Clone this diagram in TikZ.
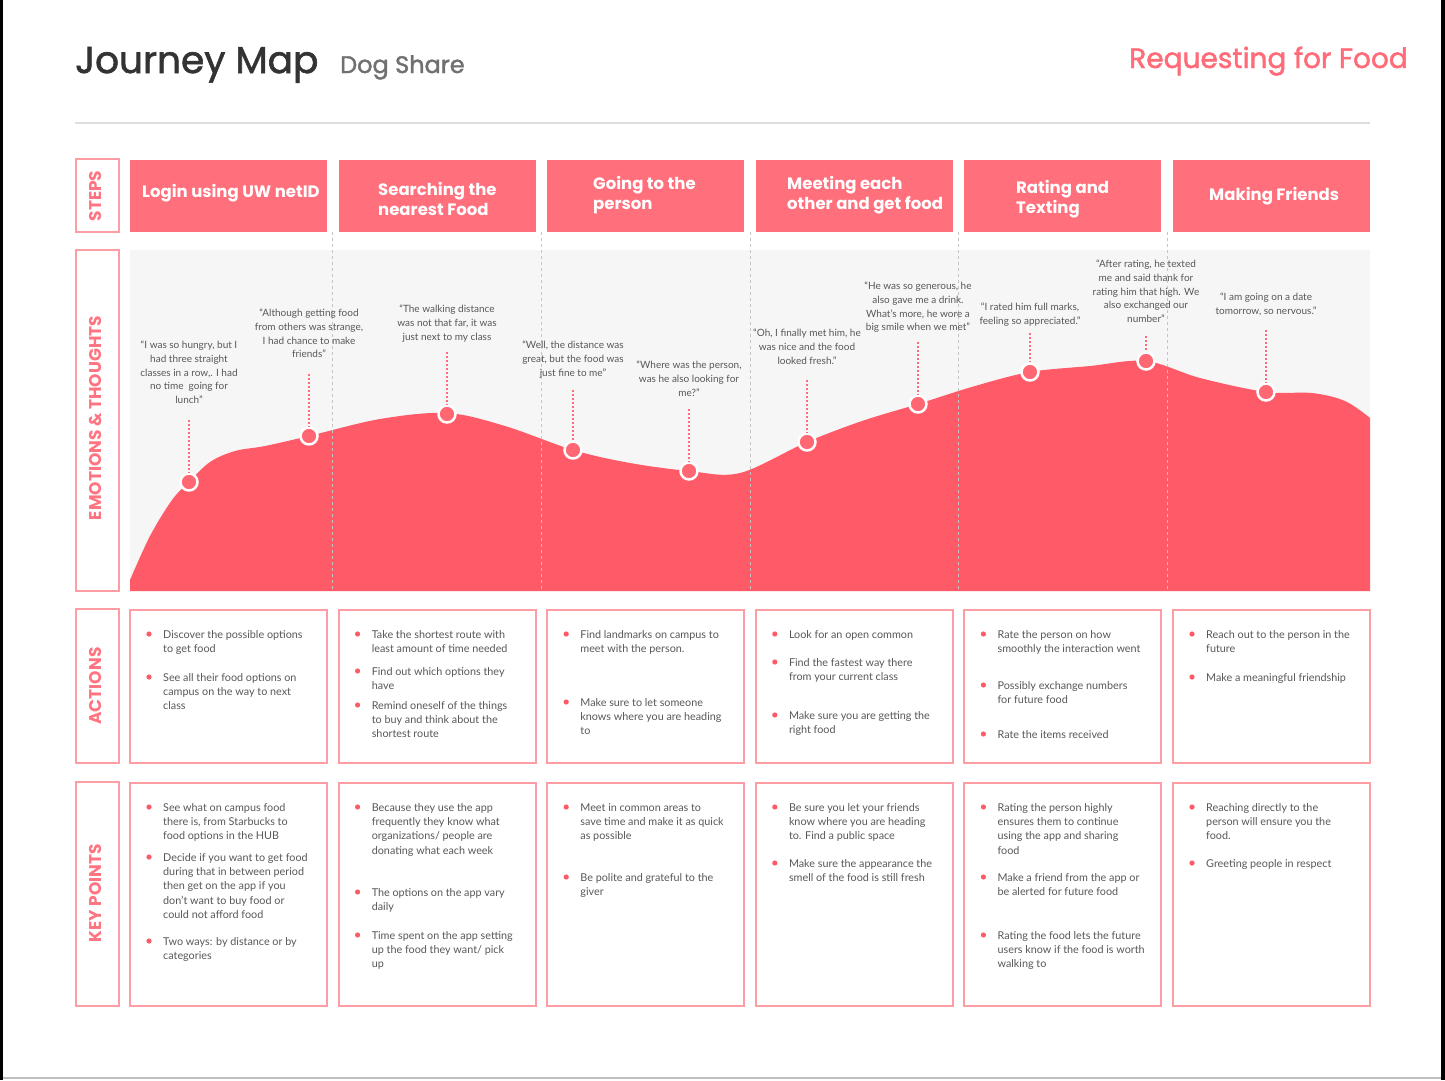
\documentclass[tikz,border=0pt]{standalone}
\usepackage{fontspec}
\setmainfont{Lato}
\newfontfamily\headfont{Poppins}
\newfontfamily\headmed{Poppins}[FakeBold=1.6]
\definecolor{stepc}{HTML}{FF6F7C}
\definecolor{curvec}{HTML}{FF5A67}
\definecolor{markc}{HTML}{FF6872}
\definecolor{outl}{HTML}{FF9DA4}
\definecolor{lblc}{HTML}{FF7480}
\definecolor{txtc}{HTML}{585858}
\definecolor{titlec}{HTML}{333333}
\definecolor{subc}{HTML}{707070}
\definecolor{reqc}{HTML}{FF6B78}
\definecolor{bgc}{HTML}{F6F6F6}
\definecolor{sepc}{HTML}{C4C4C4}
\definecolor{pinc}{HTML}{FF6B78}
\newcommand{\bitem}[4]{%
  \fill[curvec] (#2-14,#3) circle (2.6pt);
  \node[bodytxt] (#1) at (#2,#3-3.8) {#4};}
\begin{document}
\begin{tikzpicture}[x=1pt,y=-1pt,
  lblbox/.style={draw=outl, line width=2pt, fill=white},
  lbltxt/.style={text=lblc, font=\headfont\bfseries\fontsize{17}{19}\selectfont, rotate=90, inner sep=0},
  stepbox/.style={fill=stepc},
  steptxt/.style={text=white, font=\headfont\bfseries\fontsize{16.5}{20}\selectfont, align=left, anchor=west, inner sep=0},
  quote/.style={text=txtc, font=\fontsize{10}{13.6}\selectfont, align=center, anchor=north, inner sep=0},
  bodytxt/.style={text=txtc, font=\fontsize{10.8}{14.3}\selectfont, align=left, anchor=north west, inner sep=0},
  cbox/.style={draw=outl, line width=2pt},
  sep/.style={draw=sepc, dash pattern=on 3pt off 3pt, line width=0.8pt},
  pin/.style={draw=pinc, dash pattern=on 2pt off 2pt, line width=1.5pt},
  marker/.style={circle, fill=markc, draw=white, line width=2.5pt, minimum size=17pt, inner sep=0}]
\useasboundingbox (0,0) rectangle (1445,1080);
\fill[white] (0,0) rectangle (1445,1080);
\fill[black] (0,0) rectangle (3,1080);
\fill[black] (1441,0) rectangle (1445,1080);
\draw[line width=2pt, draw=black!25] (3,1078) -- (1441,1078);

% header
\node[anchor=base west, inner sep=0, text=titlec, font=\headmed\fontsize{37.5}{40}\selectfont] (title) at (75,73) {Journey Map};
\node[anchor=base west, inner sep=0, text=subc, font=\headmed\fontsize{24}{26}\selectfont] (sub) at (340,73) {Dog Share};
\node[anchor=base east, inner sep=0, text=reqc, font=\headmed\fontsize{28}{30}\selectfont] (req) at (1408,68) {Requesting for Food};
\draw[line width=1.5pt, draw=black!13] (75,123) -- (1370,123);

% row labels
\draw[lblbox] (76,159) rectangle (119,232);
\draw[lblbox] (76,250) rectangle (119,591);
\draw[lblbox] (76,609) rectangle (119,763);
\draw[lblbox] (76,782) rectangle (119,1006);
\node[lbltxt] (lsteps) at (95.5,196) {STEPS};
\node[lbltxt] (lemo) at (95.5,418) {EMOTIONS \& THOUGHTS};
\node[lbltxt] (lact) at (95.5,686) {ACTIONS};
\node[lbltxt] (lkey) at (95.5,893) {KEY POINTS};

% steps
\foreach \L in {130,338.6,547.2,755.8,964.4,1173}{
  \fill[stepbox] (\L,160) rectangle (\L+197,232);
  \draw[cbox] (\L,610) rectangle (\L+197,763);
  \draw[cbox] (\L,783) rectangle (\L+197,1006);
}
\node[steptxt] (s1) at (142,193) {Login using UW netID};
\node[steptxt] (s2) at (378,199) {Searching the\\nearest Food};
\node[steptxt] (s3) at (593,195.5) {Going to the\\person};
\node[steptxt] (s4) at (787,195) {Meeting each\\other and get food};
\node[steptxt] (s5) at (1016,199) {Rating and\\Texting};
\node[steptxt] (s6) at (1209,196) {Making Friends};

% emotions
\fill[bgc] (130,250) rectangle (1370,591);
\fill[curvec] (130,591) -- plot[smooth, tension=0.55] coordinates {
 (130,580) (150,536) (172,500) (189,482) (210,462) (235,451) (265,446) (309,436)
 (380,419) (447,413) (505,426) (573,450) (630,463) (689,471) (740,473)
 (807,442) (862,421) (918,404) (975,386) (1030,372) (1090,366) (1146,361)
 (1200,378) (1266,392) (1312,393) (1345,401) (1370,418)} -- (1370,591) -- cycle;
\foreach \X in {332.8,541.4,750,958.6,1167.2}{
  \draw[sep] (\X,232) -- (\X,591);
}

\node[quote] (q1) at (189,341) {“I was so hungry, but I\\had three straight\\classes in a row,. I had\\no time\ \ going for\\lunch”};
\node[quote] (q2) at (309,309) {“Although getting food\\from others was strange,\\I had chance to make\\friends”};
\node[quote] (q3) at (447,305) {“The walking distance\\was not that far, it was\\just next to my class};
\node[quote] (q4) at (573,341) {“Well, the distance was\\great, but the food was\\just fine to me”};
\node[quote] (q5) at (689,361) {“Where was the person,\\was he also looking for\\me?”};
\node[quote] (q6) at (807,329) {“Oh, I finally met him, he\\was nice and the food\\looked fresh.”};
\node[quote] (q7) at (918,282) {“He was so generous, he\\also gave me a drink.\\What's more, he wore a\\big smile when we met”};
\node[quote] (q8) at (1030,303) {“I rated him full marks,\\feeling so appreciated.”};
\node[quote] (q9) at (1146,260) {“After rating, he texted\\me and said thank for\\rating him that high. We\\also exchanged our\\number”};
\node[quote] (q10) at (1266,293) {“I am going on a date\\tomorrow, so nervous.”};

\coordinate (p1) at (189,420);
\coordinate (p2) at (309,374);
\coordinate (p3) at (447,352);
\coordinate (p4) at (573,390);
\coordinate (p5) at (689,409);
\coordinate (p6) at (807,380);
\coordinate (p7) at (918,342);
\coordinate (p8) at (1030,333);
\coordinate (p9) at (1146,336);
\coordinate (p10) at (1266,330);
\node[marker] (m1) at (189,482) {};
\node[marker] (m2) at (309,436) {};
\node[marker] (m3) at (447,414) {};
\node[marker] (m4) at (573,450) {};
\node[marker] (m5) at (689,471) {};
\node[marker] (m6) at (807,442) {};
\node[marker] (m7) at (918,404) {};
\node[marker] (m8) at (1030,372) {};
\node[marker] (m9) at (1146,361) {};
\node[marker] (m10) at (1266,392) {};
\foreach \i in {1,...,10}{ \draw[pin] (p\i) -- (m\i); }

% actions
\bitem{a11}{163}{634}{Discover the possible options\\to get food}
\bitem{a12}{163}{677}{See all their food options on\\campus on the way to next\\class}
\bitem{a21}{371.6}{634}{Take the shortest route with\\least amount of time needed}
\bitem{a22}{371.6}{671}{Find out which options they\\have}
\bitem{a23}{371.6}{705}{Remind oneself of the things\\to buy and think about the\\shortest route}
\bitem{a31}{580.2}{634}{Find landmarks on campus to\\meet with the person.}
\bitem{a32}{580.2}{702}{Make sure to let someone\\knows where you are heading\\to}
\bitem{a41}{788.8}{634}{Look for an open common}
\bitem{a42}{788.8}{662}{Find the fastest way there\\from your current class}
\bitem{a43}{788.8}{715}{Make sure you are getting the\\right food}
\bitem{a51}{997.4}{634}{Rate the person on how\\smoothly the interaction went}
\bitem{a52}{997.4}{685}{Possibly exchange numbers\\for future food}
\bitem{a53}{997.4}{734}{Rate the items received}
\bitem{a61}{1206}{634}{Reach out to the person in the\\future}
\bitem{a62}{1206}{677}{Make a meaningful friendship}

% key points
\bitem{k11}{163}{807}{See what on campus food\\there is, from Starbucks to\\food options in the HUB}
\bitem{k12}{163}{857}{Decide if you want to get food\\during that in between period\\then get on the app if you\\don't want to buy food or\\could not afford food}
\bitem{k13}{163}{941}{Two ways: by distance or by\\categories}
\bitem{k21}{371.6}{807}{Because they use the app\\frequently they know what\\organizations/ people are\\donating what each week}
\bitem{k22}{371.6}{892}{The options on the app vary\\daily}
\bitem{k23}{371.6}{935}{Time spent on the app setting\\up the food they want/ pick\\up}
\bitem{k31}{580.2}{807}{Meet in common areas to\\save time and make it as quick\\as possible}
\bitem{k32}{580.2}{877}{Be polite and grateful to the\\giver}
\bitem{k41}{788.8}{807}{Be sure you let your friends\\know where you are heading\\to. Find a public space}
\bitem{k42}{788.8}{863}{Make sure the appearance the\\smell of the food is still fresh}
\bitem{k51}{997.4}{807}{Rating the person highly\\ensures them to continue\\using the app and sharing\\food}
\bitem{k52}{997.4}{877}{Make a friend from the app or\\be alerted for future food}
\bitem{k53}{997.4}{935}{Rating the food lets the future\\users know if the food is worth\\walking to}
\bitem{k61}{1206}{807}{Reaching directly to the\\person will ensure you the\\food.}
\bitem{k62}{1206}{863}{Greeting people in respect}
\end{tikzpicture}
\end{document}
